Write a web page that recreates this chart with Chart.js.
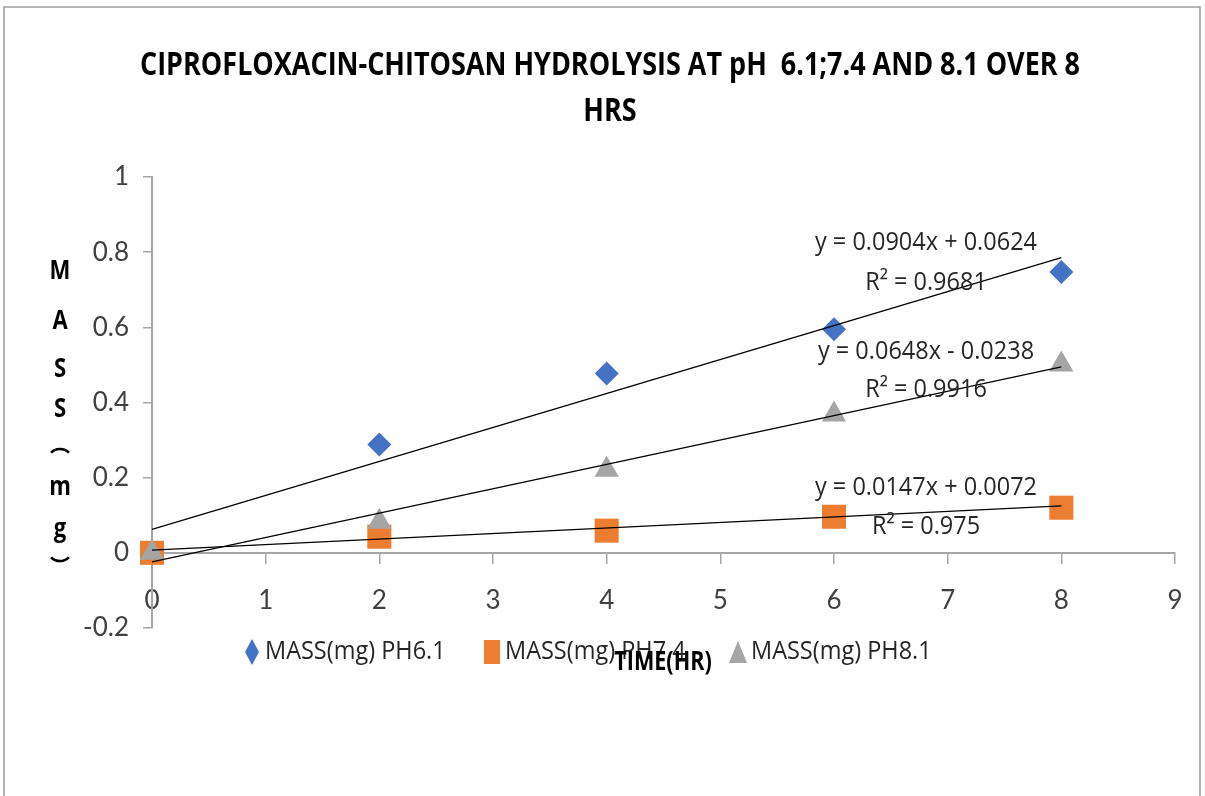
<!DOCTYPE html>
<html>
<head>
<meta charset="utf-8">
<script src="https://cdn.jsdelivr.net/npm/chart.js@4"></script>
<style>
  body { margin: 0; background: #fff; }
  #wrap { width: 1205px; height: 796px; }
</style>
</head>
<body>
<div id="wrap"><canvas id="chart" width="1205" height="796"></canvas></div>
<script>
// values
const hours = [0, 2, 4, 6, 8];
const massPH61 = [0, 0.288, 0.477, 0.595, 0.747];
const massPH74 = [0, 0.043, 0.059, 0.096, 0.120];
const massPH81 = [0, 0.083, 0.221, 0.368, 0.501];
const seriesNames = ["MASS(mg) PH6.1", "MASS(mg) PH7.4", "MASS(mg) PH8.1"];
const seriesColors = ["#4472C4", "#ED7D31", "#A5A5A5"];

// linear trendlines, as printed on the chart
const trendSlopes = [0.0904, 0.0147, 0.0648];
const trendIntercepts = [0.0624, 0.0072, -0.0238];
const trendRange = [0, 8];
const trendEquations = ["y = 0.0904x + 0.0624", "y = 0.0147x + 0.0072", "y = 0.0648x - 0.0238"];
const trendR2 = ["R\u00B2 = 0.9681", "R\u00B2 = 0.975", "R\u00B2 = 0.9916"];

const titleLines = ["CIPROFLOXACIN-CHITOSAN HYDROLYSIS AT pH  6.1;7.4 AND 8.1 OVER 8", "HRS"];
const xTitle = "TIME(HR)";
const yTitleChars = ["M", "A", "S", "S", "(", "m", "g", ")"];

const FONT = "'Open Sans', 'DejaVu Sans', sans-serif";
const TICK_FONT = "Lato, 'Open Sans', sans-serif";
const AXIS_GREY = "#a6a6a6";

function pts(values) {
    return hours.map((h, i) => ({ x: h, y: values[i] }));
}

function trend(i) {
    return trendRange.map(x => ({ x: x, y: trendSlopes[i] * x + trendIntercepts[i] }));
}

// squeeze text sideways so it looks like the narrow office font
function squeezed(ctx, text, x, y, sx) {
    ctx.save();
    ctx.translate(x, y);
    ctx.scale(sx, 1);
    ctx.fillText(text, 0, 0);
    ctx.restore();
}

// labels, legend, titles, frame
const decorations = {
    id: "decorations",
    afterDraw(chart) {
        const ctx = chart.ctx;
        ctx.save();

        // frame
        ctx.strokeStyle = "#9a9a9a";
        ctx.lineWidth = 1.5;
        ctx.beginPath();
        ctx.moveTo(4, 796);
        ctx.lineTo(4, 7);
        ctx.lineTo(1200, 7);
        ctx.lineTo(1200, 796);
        ctx.stroke();

        // title
        ctx.fillStyle = "#000";
        ctx.textAlign = "center";
        ctx.textBaseline = "middle";
        ctx.font = "bold 32px " + FONT;
        const tsx = 940 / ctx.measureText(titleLines[0]).width;
        squeezed(ctx, titleLines[0], 610, 66, tsx);
        squeezed(ctx, titleLines[1], 610, 112, tsx);

        // y title, stacked letters; the brackets lie on their side
        ctx.font = "bold 26px " + FONT;
        const ys = [272, 322, 370, 410, 448, 488, 530, 562];
        ctx.strokeStyle = "#000";
        ctx.lineWidth = 2.5;
        yTitleChars.forEach((c, i) => {
            if (c === "(") {
                ctx.beginPath();
                ctx.ellipse(60, ys[i] + 8, 10, 7, 0, Math.PI * 1.15, Math.PI * 1.85);
                ctx.stroke();
            } else if (c === ")") {
                ctx.beginPath();
                ctx.ellipse(60, ys[i] - 8, 10, 7, 0, Math.PI * 0.15, Math.PI * 0.85);
                ctx.stroke();
            } else {
                squeezed(ctx, c, 60, ys[i], 0.85);
            }
        });

        // trendline labels
        ctx.font = "25px " + FONT;
        ctx.fillStyle = "#262626";
        const lsx = 222 / ctx.measureText(trendEquations[0]).width;
        const eqY = [[243, 283], [488, 527], [352, 390]];
        trendEquations.forEach((t, i) => {
            squeezed(ctx, t, 926, eqY[i][0], lsx);
            squeezed(ctx, trendR2[i], 926, eqY[i][1], lsx);
        });

        // legend
        const lx = [252, 492, 738];
        const ly = 652;
        seriesNames.forEach((name, i) => {
            ctx.fillStyle = seriesColors[i];
            ctx.beginPath();
            if (i === 0) {
                ctx.moveTo(lx[i], ly - 13);
                ctx.lineTo(lx[i] + 7, ly);
                ctx.lineTo(lx[i], ly + 13);
                ctx.lineTo(lx[i] - 7, ly);
            } else if (i === 1) {
                ctx.rect(lx[i] - 8, ly - 12, 16, 24);
            } else {
                ctx.moveTo(lx[i], ly - 11);
                ctx.lineTo(lx[i] + 9, ly + 11);
                ctx.lineTo(lx[i] - 9, ly + 11);
            }
            ctx.closePath();
            ctx.fill();
            ctx.fillStyle = "#262626";
            ctx.textAlign = "left";
            squeezed(ctx, name, lx[i] + 13, ly, lsx);
        });

        // x title sits over the legend, like the original
        ctx.textAlign = "center";
        ctx.fillStyle = "#000";
        ctx.font = "bold 27px " + FONT;
        squeezed(ctx, xTitle, 663, 662, 0.8);

        ctx.restore();
    }
};

const canvas = document.querySelector("#chart");

const options = {
    type: "scatter",
    data: {
        datasets: [
            // trendlines on top
            { label: "trend 6.1", data: trend(0), showLine: true, borderColor: "#000", borderWidth: 1.3, pointRadius: 0, order: 0, clip: false },
            { label: "trend 7.4", data: trend(1), showLine: true, borderColor: "#000", borderWidth: 1.3, pointRadius: 0, order: 0, clip: false },
            { label: "trend 8.1", data: trend(2), showLine: true, borderColor: "#000", borderWidth: 1.3, pointRadius: 0, order: 0, clip: false },
            {
                label: seriesNames[2],
                data: pts(massPH81),
                pointStyle: "triangle",
                pointRadius: 14,
                backgroundColor: seriesColors[2],
                borderColor: seriesColors[2],
                borderWidth: 0,
                order: 1,
                clip: false,
            },
            {
                label: seriesNames[1],
                data: pts(massPH74),
                pointStyle: "rect",
                pointRadius: 17,
                backgroundColor: seriesColors[1],
                borderColor: seriesColors[1],
                borderWidth: 0,
                order: 2,
                clip: false,
            },
            {
                label: seriesNames[0],
                data: pts(massPH61),
                pointStyle: "rectRot",
                pointRadius: 12,
                backgroundColor: seriesColors[0],
                borderColor: seriesColors[0],
                borderWidth: 0,
                order: 3,
                clip: false,
            },
        ],
    },
    options: {
        responsive: false,
        animation: false,
        events: [],
        layout: {
            padding: { left: 0, right: 30, top: 177, bottom: 168 },
        },
        scales: {
            x: {
                type: "linear",
                min: 0,
                max: 9,
                position: { y: 0 },
                ticks: {
                    stepSize: 1,
                    padding: 22,
                    color: "#404040",
                    font: { family: TICK_FONT, size: 26 },
                },
                grid: {
                    drawOnChartArea: false,
                    drawTicks: true,
                    tickLength: 10,
                    color: AXIS_GREY,
                    lineWidth: 1.5,
                },
                border: { color: AXIS_GREY, width: 2 },
            },
            y: {
                type: "linear",
                min: -0.2,
                max: 1,
                afterFit(scale) {
                    scale.width = 152;
                },
                ticks: {
                    stepSize: 0.2,
                    padding: 14,
                    color: "#404040",
                    font: { family: TICK_FONT, size: 26 },
                    callback: v => String(Math.round(v * 10) / 10),
                },
                grid: {
                    drawOnChartArea: false,
                    drawTicks: true,
                    tickLength: 9,
                    color: AXIS_GREY,
                    lineWidth: 1.5,
                },
                border: { color: AXIS_GREY, width: 2 },
            },
        },
        plugins: {
            legend: { display: false },
            title: { display: false },
            tooltip: { enabled: false },
        },
    },
    plugins: [decorations],
};

const chart = new Chart(canvas.getContext("2d"), options);
</script>
</body>
</html>
